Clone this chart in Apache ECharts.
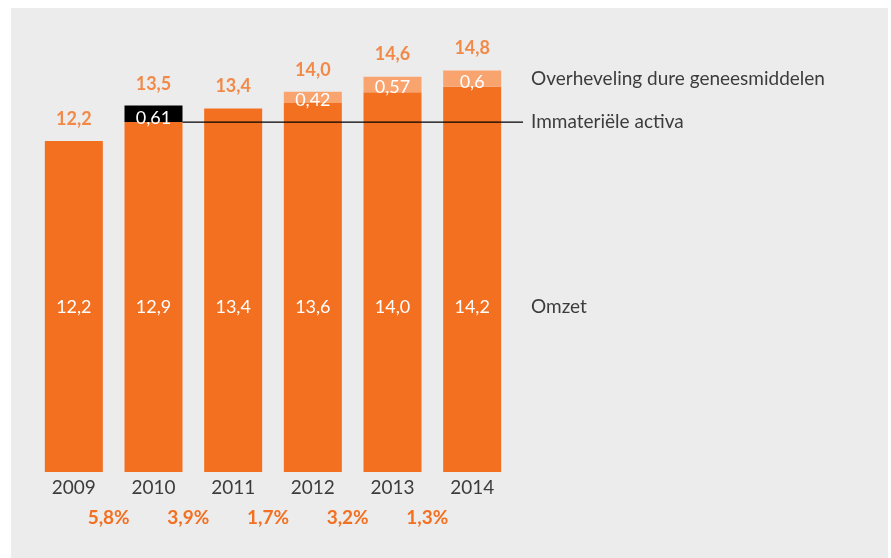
<!DOCTYPE html>
<html><head><meta charset="utf-8">
<script src="https://cdn.jsdelivr.net/npm/echarts@6/dist/echarts.min.js"></script>
<style>
html,body{margin:0;padding:0;background:#fff;}
#bg{position:absolute;left:11px;top:8px;width:877px;height:550px;background:#ececec;}
#c{position:absolute;left:0;top:0;width:891px;height:558px;}
</style></head>
<body><div id="bg"></div><div id="c"></div>
<script>
const years = ['2009','2010','2011','2012','2013','2014'];
const omzet = [12.2, 12.9, 13.4, 13.6, 14.0, 14.2];
const immaterieel = ['-', 0.61, '-', '-', '-', '-'];
const overheveling = ['-', '-', '-', 0.42, 0.57, 0.6];
const totals = [12.2, 13.5, 13.4, 14.0, 14.6, 14.8];
const growth = ['5,8%', '3,9%', '1,7%', '3,2%', '1,3%'];
const seriesNames = ['Overheveling dure geneesmiddelen', 'Immateriële activa', 'Omzet'];

const ORANGE = '#f37021', LIGHT = '#f9a46f', FONT = 'Lato';
const comma = v => String(v).replace('.', ',');

const chart = echarts.init(document.getElementById('c'), null, {renderer:'canvas'});
const option = {
  backgroundColor: 'transparent',
  animation: false,
  grid: {left: 34, width: 478, top: 38, bottom: 86, containLabel: false},
  xAxis: {
    type: 'category', data: years,
    axisLine: {show: false}, axisTick: {show: false},
    axisLabel: {color: '#3c3c3c', fontFamily: FONT, fontSize: 19, margin: 6}
  },
  yAxis: {type: 'value', min: 0, max: 16, show: false, splitLine: {show: false}},
  series: [
    {
      name: seriesNames[2], type: 'bar', stack: 't', data: omzet, barWidth: 58,
      itemStyle: {color: ORANGE},
      label: {show: true, position: 'insideBottom', distance: 156, color: '#fff',
        fontFamily: FONT, fontSize: 18, formatter: p => comma(p.value.toFixed(1))}
    },
    {
      name: seriesNames[1], type: 'bar', stack: 't', data: immaterieel, barWidth: 58,
      itemStyle: {color: '#000'},
      label: {show: true, position: 'inside', offset: [0, 4], color: '#fff',
        fontFamily: FONT, fontSize: 18, formatter: p => comma(p.value)}
    },
    {
      name: seriesNames[0], type: 'bar', stack: 't', data: overheveling, barWidth: 58,
      itemStyle: {color: LIGHT},
      label: {show: true, position: 'inside', offset: [0, 3], color: '#fff',
        fontFamily: FONT, fontSize: 18, formatter: p => comma(p.value)}
    },
    {
      name: 'Totaal', type: 'scatter', data: totals, symbolSize: 0, z: 5,
      label: {show: true, position: 'top', distance: 13, color: ORANGE,
        fontFamily: FONT, fontWeight: 'bold', fontSize: 18,
        formatter: p => comma(p.value.toFixed(1))}
    }
  ]
};
chart.setOption(option);

// annotations computed through the chart's scales
const px = (i, v) => chart.convertToPixel({xAxisIndex:0, yAxisIndex:0}, [i, v]);
const gfx = [];
const lineY = px(1, omzet[1])[1];
const lineX0 = px(1, 0)[0] + 29;
gfx.push({type:'line', z: 10, shape:{x1: lineX0, y1: lineY, x2: 523, y2: lineY},
  style:{stroke:'#000', lineWidth:1.2}});
const labelX = 531;
const yOver = px(5, omzet[5] + overheveling[5] / 2)[1];
const yOmzet = px(0, 0)[1] - 165;
[[seriesNames[0], yOver], [seriesNames[1], lineY], [seriesNames[2], yOmzet]].forEach(([t, y]) => {
  gfx.push({type:'text', x: labelX, y: y, style:{text: t, fill:'#3c3c3c', font: '19px ' + FONT,
    textVerticalAlign:'middle', verticalAlign:'middle'}});
});
growth.forEach((g, i) => {
  const xa = px(i, 0)[0], xb = px(i + 1, 0)[0];
  gfx.push({type:'text', x: (xa + xb) / 2 - 5, y: 518, style:{text: g, fill: ORANGE,
    font: 'bold 19px ' + FONT, textAlign:'center', align:'center', textVerticalAlign:'middle', verticalAlign:'middle'}});
});
chart.setOption({graphic: gfx});
</script></body></html>
